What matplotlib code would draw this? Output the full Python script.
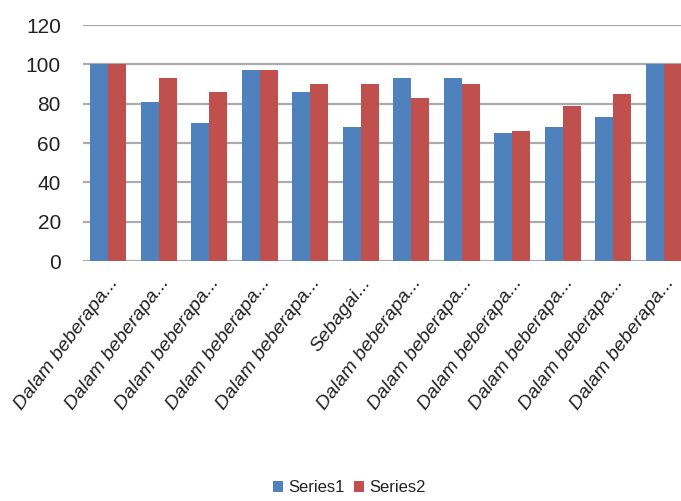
import numpy as np
import matplotlib
matplotlib.use('Agg')
import matplotlib.pyplot as plt

plt.rcParams['font.family'] = ['Liberation Sans', 'DejaVu Sans']

# nilai tiap kategori
categories = ['Dalam beberapa...', 'Dalam beberapa...', 'Dalam beberapa...', 'Dalam beberapa...',
              'Dalam beberapa...', 'Sebagai...', 'Dalam beberapa...', 'Dalam beberapa...',
              'Dalam beberapa...', 'Dalam beberapa...', 'Dalam beberapa...', 'Dalam beberapa...']
series1 = [100, 81, 70, 97, 86, 68, 93, 93, 65, 68, 73, 100]
series2 = [100, 93, 86, 97, 90, 90, 83, 90, 66, 79, 85, 100]
yticks = [0, 20, 40, 60, 80, 100, 120]

fig = plt.figure(figsize=(6.81, 5.01), dpi=100)
ax = fig.add_axes([0.122, 0.479, 0.89, 0.471])

x = np.arange(len(categories))
w = 0.355
ax.bar(x - w/2, series1, w, color='#4F81BD', label='Series1', zorder=3)
ax.bar(x + w/2, series2, w, color='#C0504D', label='Series2', zorder=3)

ax.set_xlim(-0.5, len(categories) - 0.5)
ax.set_ylim(0, 120)
ax.set_yticks(yticks)
ax.yaxis.grid(True, color='#ABABAB', linewidth=1.6, zorder=0)
ax.set_axisbelow(True)
for s in ax.spines.values():
    s.set_visible(False)
ax.tick_params(axis='both', length=0)
ax.tick_params(axis='y', labelsize=15, pad=16, labelcolor='#222222')

ax.set_xticks(x)
ax.set_xticklabels(categories, rotation=53, ha='right', va='top', rotation_mode='anchor',
                   fontsize=14, fontstyle='italic', color='#222222')
ax.tick_params(axis='x', pad=10)

fig.legend(loc='center', bbox_to_anchor=(0.513, 0.026), ncol=2, frameon=False,
           fontsize=12, handlelength=0.6, handleheight=0.7, handletextpad=0.3,
           columnspacing=0.6, labelcolor='#222222')

plt.savefig('out.png', dpi=100)
